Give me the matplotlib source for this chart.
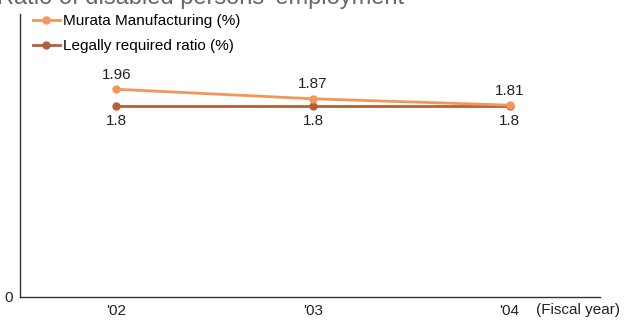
import matplotlib
matplotlib.use("Agg")
import matplotlib.pyplot as plt

plt.rcParams['font.family'] = ['Liberation Sans', 'DejaVu Sans']

# data
years = ["'02", "'03", "'04"]
murata = [1.96, 1.87, 1.81]
legal = [1.8, 1.8, 1.8]

c_murata = "#F4955A"
c_legal = "#B5603A"
fs = 11

fig = plt.figure(figsize=(6.32, 3.2), dpi=100)
ax = fig.add_axes([20/632, 1 - 297/320, 580/632, 283/320])

x = list(range(len(years)))
ax.plot(x, legal, color=c_legal, lw=2, marker="o", ms=5, label="Legally required ratio (%)", zorder=2)
ax.plot(x, murata, color=c_murata, lw=2, marker="o", ms=5, label="Murata Manufacturing (%)", zorder=3)

for i, v in enumerate(murata):
    ax.annotate(f"{v:g}", (i, v), xytext=(0, 10.5), textcoords="offset points",
                ha="center", va="center", fontsize=fs, color="#222222")
for i, v in enumerate(legal):
    ax.annotate(f"{v:g}", (i, v), xytext=(0, -11), textcoords="offset points",
                ha="center", va="center", fontsize=fs, color="#222222")

ax.set_xlim(-0.49, 2.46)
ax.set_ylim(0, 2.67)
ax.set_xticks(x)
ax.set_xticklabels(years, fontsize=fs, color="#222222")
ax.set_yticks([0])
ax.set_yticklabels(["0"], fontsize=fs, color="#222222")
ax.tick_params(length=0, pad=5)
ax.tick_params(axis="x", pad=5)
for s in ["top", "right"]:
    ax.spines[s].set_visible(False)
for s in ["left", "bottom"]:
    ax.spines[s].set_color("#333333")
    ax.spines[s].set_linewidth(1)

fig.text(536/632, 1 - 310/320, "(Fiscal year)", fontsize=fs, color="#222222", va="center", ha="left")

# legend, murata first
h, l = ax.get_legend_handles_labels()
leg = ax.legend(h[::-1], l[::-1], loc="upper left", bbox_to_anchor=(33/632, 1 - 14/320),
                bbox_transform=fig.transFigure, frameon=False, fontsize=fs,
                handlelength=1.75, handletextpad=0.2, labelspacing=0.75, borderaxespad=0, borderpad=0)

# title, cut off at top of image like the reference
fig.text(-3/632, 1 - 4/320, "Ratio of disabled persons' employment", fontsize=17,
         color="#666666", va="baseline", ha="left")

fig.savefig("out.png", dpi=100)
